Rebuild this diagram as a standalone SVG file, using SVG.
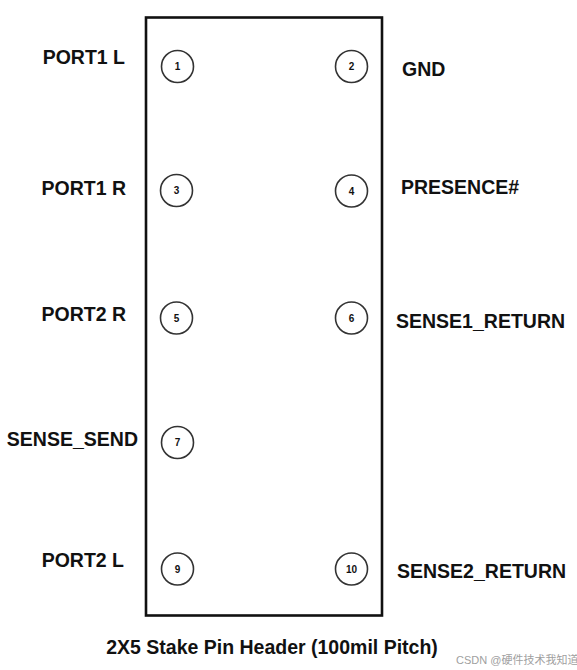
<svg xmlns="http://www.w3.org/2000/svg" width="577" height="670" viewBox="0 0 577 670">
<style>
.lbl{font-family:"Liberation Sans",Arial,sans-serif;font-weight:bold;font-size:19.5px;fill:#111;}
.l{text-anchor:end;}
.pin{fill:#fff;stroke:#333;stroke-width:1.6;}
.num{font-family:"Liberation Sans",Arial,sans-serif;font-weight:bold;font-size:10px;fill:#111;text-anchor:middle;}
.wm{font-family:"Liberation Sans","Noto Sans CJK SC",sans-serif;font-size:11px;fill:#a0a0a0;}
</style>
<rect width="577" height="670" fill="#fff"/>
<g id="header"><rect x="146" y="17.5" width="236" height="598" fill="none" stroke="#111" stroke-width="2.6"/></g>
<g id="connectors"></g>
<g id="pin1"><circle class="pin" cx="177.5" cy="66.5" r="16"/><text class="num" x="177.5" y="70">1</text><text class="lbl l" x="125" y="64">PORT1 L</text></g>
<g id="pin2"><circle class="pin" cx="351.5" cy="66.5" r="16"/><text class="num" x="351.5" y="70">2</text><text class="lbl" x="402" y="76">GND</text></g>
<g id="pin3"><circle class="pin" cx="176.5" cy="190.5" r="16"/><text class="num" x="176.5" y="194">3</text><text class="lbl l" x="126" y="195">PORT1 R</text></g>
<g id="pin4"><circle class="pin" cx="351.5" cy="191" r="16"/><text class="num" x="351.5" y="194.5">4</text><text class="lbl" x="401" y="194">PRESENCE#</text></g>
<g id="pin5"><circle class="pin" cx="176.5" cy="318" r="16"/><text class="num" x="176.5" y="321.5">5</text><text class="lbl l" x="126" y="321">PORT2 R</text></g>
<g id="pin6"><circle class="pin" cx="351.5" cy="318" r="16"/><text class="num" x="351.5" y="321.5">6</text><text class="lbl" x="396" y="328">SENSE1_RETURN</text></g>
<g id="pin7"><circle class="pin" cx="177.5" cy="442.5" r="16"/><text class="num" x="177.5" y="446">7</text><text class="lbl l" x="138" y="446">SENSE_SEND</text></g>
<g id="pin9"><circle class="pin" cx="177.5" cy="569" r="16"/><text class="num" x="177.5" y="572.5">9</text><text class="lbl l" x="124" y="567">PORT2 L</text></g>
<g id="pin10"><circle class="pin" cx="351.5" cy="569" r="16"/><text class="num" x="351.5" y="572.5">10</text><text class="lbl" x="397" y="578">SENSE2_RETURN</text></g>
<g id="title"><text class="lbl" x="272" y="654" text-anchor="middle">2X5 Stake Pin Header (100mil Pitch)</text></g>
<text class="wm" x="456" y="664">CSDN @硬件技术我知道</text>
</svg>
